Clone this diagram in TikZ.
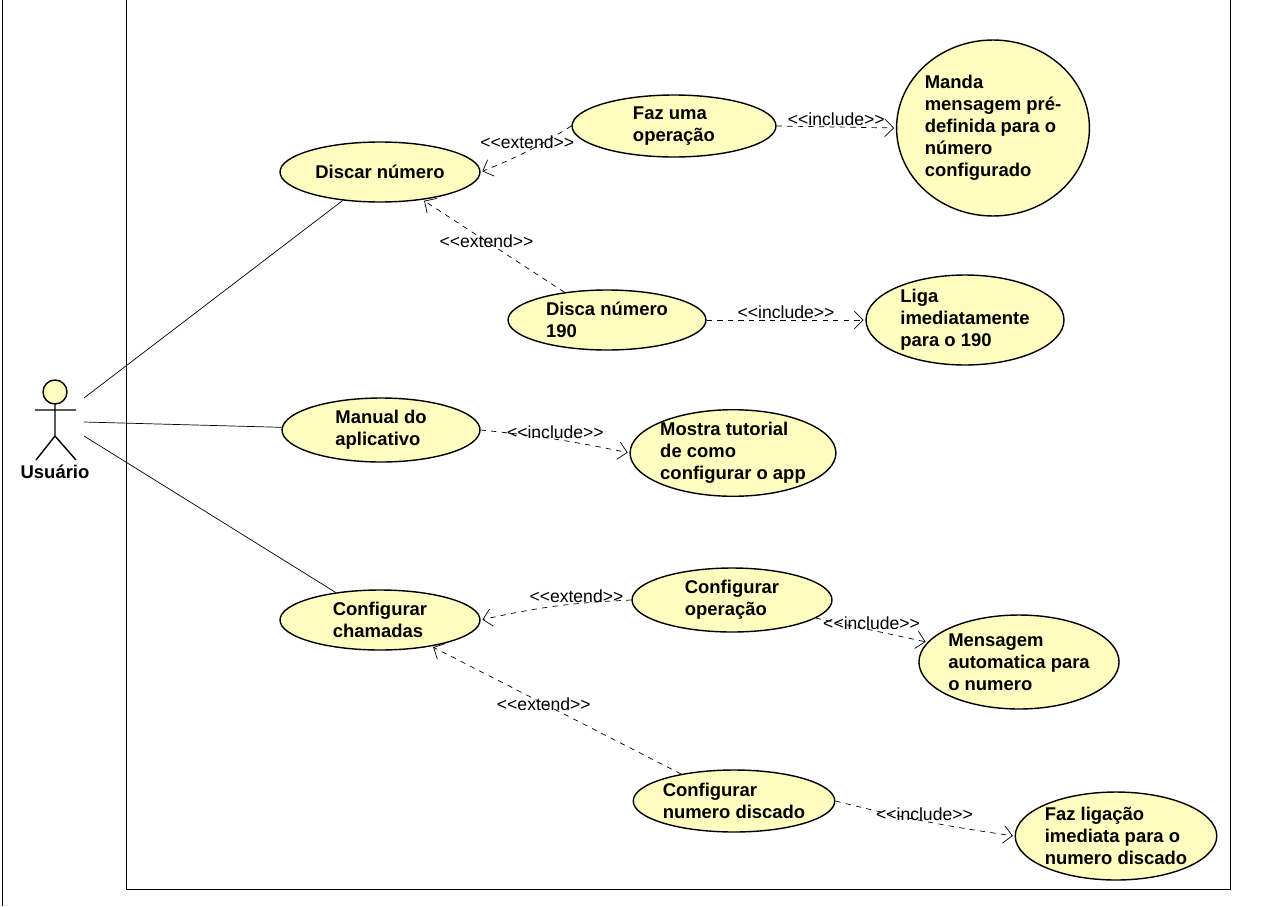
\documentclass[tikz,border=0pt]{standalone}
\usepackage{fontspec}
\setmainfont{Liberation Sans}
\usetikzlibrary{shapes.geometric,arrows.meta}
\tikzstyle{usecase}=[ellipse,draw,thick,fill=yellow!25,inner sep=0pt,
  align=left,font=\bfseries\fontsize{10.5}{12.5}\selectfont]
\tikzstyle{assoc}=[thin]
\tikzstyle{dep}=[dashed,thin,-{Straight Barb[length=5pt,width=10pt]},shorten >=1pt]
\tikzstyle{stereo}=[font=\fontsize{10}{12}\selectfont]
\newcommand{\ext}{{<}{<}extend{>}{>}}
\newcommand{\incl}{{<}{<}include{>}{>}}

\begin{document}
\begin{tikzpicture}[x=0.02cm,y=-0.02cm]
\useasboundingbox (0,0) rectangle (1280,906);
\draw (2,0) -- (2,906);
\draw (126,-5) -- (126,889) -- (1230,889) -- (1230,-5);
	% actor
    \draw[thick,fill=yellow!25] (55,392) circle (12);
    \draw[thick] (55,404) -- (55,436) (35,410) -- (76,410)
      (36,460) -- (55,436) -- (76,460);
    \node[font=\bfseries\fontsize{10.5}{12}\selectfont] (user) at (55,472) {Usuário};
    \coordinate (u1) at (84,398);
    \coordinate (u2) at (84,422);
    \coordinate (u3) at (84,436);
	% use cases
    \node[usecase,minimum width=4cm,minimum height=1.2cm] (discar) at (380,172) {Discar número};
    \node[usecase,minimum width=4.08cm,minimum height=1.24cm] (faz) at (674,126) {Faz uma\\operação\hspace{3em}};
    \node[usecase,minimum width=3.72cm,minimum height=3.52cm] (manda) at (993,128) {Manda\\mensagem pré-\\definida para o\\número\\configurado};
    \node[usecase,minimum width=3.96cm,minimum height=1.2cm] (disca) at (607,320) {Disca número\\190};
    \node[usecase,minimum width=3.96cm,minimum height=1.8cm] (liga) at (965,320) {Liga\\imediatamente\\para o 190};
    \node[usecase,minimum width=3.96cm,minimum height=1.28cm] (manual) at (381,430) {Manual do\\aplicativo};
    \node[usecase,minimum width=3.96cm,minimum height=1.52cm] (mostra) at (733,453) {Mostra tutorial\\de como\\configurar o app};
    \node[usecase,minimum width=4cm,minimum height=1.2cm] (chamadas) at (380,620) {Configurar\\chamadas};
    \node[usecase,minimum width=4cm,minimum height=1.28cm] (cfgop) at (732,600) {Configurar\\operação};
    \node[usecase,minimum width=3.96cm,minimum height=1.88cm] (msg) at (1019,662) {Mensagem\\automatica para\\o numero};
    \node[usecase,minimum width=4cm,minimum height=1.24cm] (cfgnum) at (734,801) {Configurar\\numero discado};
    \node[usecase,minimum width=4cm,minimum height=1.76cm] (fazlig) at (1116,836) {Faz ligação\\imediata para o\\numero discado};
	% associations
    \draw[assoc] (u1) -- (discar);
    \draw[assoc] (u2) -- (manual);
    \draw[assoc] (u3) -- (chamadas);
	% dependencies
    \draw[dep] (faz.west) to[bend left=5] node[stereo,above=-2pt,pos=0.5] {\ext} (discar.east);
    \draw[dep] (faz.east) -- node[stereo,above=-3pt] {\incl} (manda.west);
    \draw[dep] (disca) -- node[stereo,pos=0.55] {\ext} (discar);
    \draw[dep] (disca.east) -- node[stereo,above=-3pt] {\incl} (liga.west);
    \draw[dep] (manual.east) to[bend left=3] node[stereo,above=-3pt] {\incl} (mostra.west);
    \draw[dep] (cfgop.west) to[bend right=5] node[stereo,above=-3pt,pos=0.35] {\ext} (chamadas.east);
    \draw[dep] (cfgop) -- node[stereo,above=-3pt] {\incl} (msg);
    \draw[dep] (cfgnum) -- node[stereo,pos=0.55] {\ext} (chamadas);
    \draw[dep] (cfgnum.east) to[bend right=3] node[stereo,above=-3pt] {\incl} (fazlig.west);
\end{tikzpicture}
\end{document}
